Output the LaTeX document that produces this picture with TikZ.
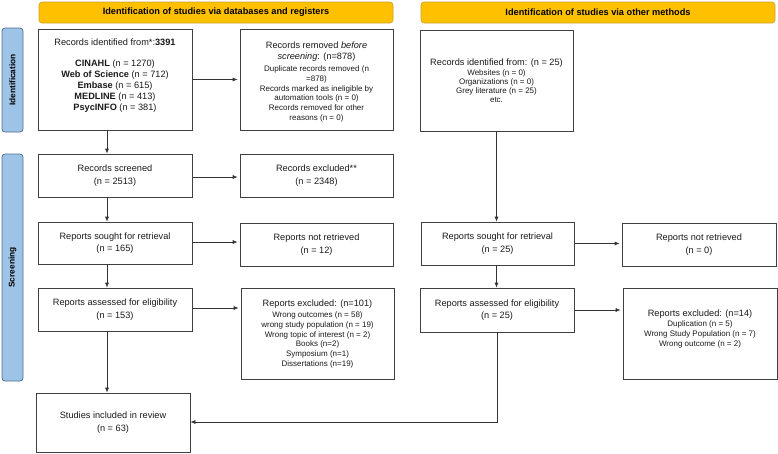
\documentclass[tikz,border=0pt]{standalone}
\usepackage{fontspec}
\setmainfont{Liberation Sans}
\usetikzlibrary{arrows.meta}
\definecolor{hdr}{HTML}{FFC000}
\definecolor{hdrb}{HTML}{C9A227}
\definecolor{side}{HTML}{9DC3E6}
\definecolor{sideb}{HTML}{4F6F91}
\newcommand\smtxt{\fontsize{8}{9.6}\selectfont}
\begin{document}
\begin{tikzpicture}[x=1pt,y=-1pt,
  box/.style={draw=black!75, line width=0.7pt, align=center, inner sep=2pt,
    font=\fontsize{9.2}{12.5}\selectfont, text=black!90},
  txt/.style={align=center, inner sep=0pt, font=\fontsize{9.2}{9.7}\selectfont, text=black!90},
  hdrbox/.style={draw=hdrb, fill=hdr, rounded corners=3pt, line width=0.6pt,
    font=\bfseries\fontsize{9.2}{11}\selectfont, minimum width=354pt, minimum height=21pt},
  sidebar/.style={draw=sideb, fill=side, rounded corners=3pt, line width=0.8pt,
    rotate=90, minimum height=21pt, font=\bfseries\fontsize{8.3}{10}\selectfont},
  arr/.style={-{Latex[length=5pt,width=4pt]}, draw=black!80, line width=0.7pt}]
\useasboundingbox (0,0) rectangle (778,453);

% headers
\node[hdrbox] (h1) at (216,12.5) {Identification of studies via databases and registers};
\node[hdrbox] (h2) at (598,12.5) {Identification of studies via other methods};

% side bars
\node[sidebar, minimum width=104pt] (s1) at (12.5,80) {Identification};
\node[sidebar, minimum width=227pt] (s2) at (12.5,267.5) {Screening};

% left column
\node[box, minimum width=154pt, minimum height=101pt] (b1) at (115,79.5) {};
\node[txt, font=\fontsize{9.2}{11}\selectfont] (b1t) at (115,76)
  {Records identified from*:\textbf{3391}\\[10pt]
   \textbf{CINAHL} (n = 1270)\\
   \textbf{Web of Science} (n = 712)\\
   \textbf{Embase} (n = 615)\\
   \textbf{MEDLINE} (n = 413)\\
   \textbf{PsycINFO} (n = 381)};
\node[box, minimum width=153pt, minimum height=101pt] (rem) at (316.5,79.5) {};
\node[txt] (remt) at (316.5,82)
  {Records removed \emph{before}\\[1.3pt] \emph{screening}: (n=878)\\[2.3pt]
   \smtxt Duplicate records removed (n\\ \smtxt =878)\\
   \smtxt Records marked as ineligible by\\ \smtxt automation tools (n = 0)\\
   \smtxt Records removed for other\\ \smtxt reasons (n = 0)};
\node[box, minimum width=154pt, minimum height=43pt] (scr) at (115,175.5)
  {Records screened\\ (n = 2513)};
\node[box, minimum width=153pt, minimum height=43pt] (exc) at (316.5,175.5)
  {Records excluded**\\ (n = 2348)};
\node[box, minimum width=154pt, minimum height=42pt] (sou) at (115,243)
  {Reports sought for retrieval\\ (n = 165)};
\node[box, minimum width=153pt, minimum height=43pt] (nr) at (316.5,244.5)
  {Reports not retrieved\\ (n = 12)};
\node[box, minimum width=154pt, minimum height=43pt] (ass) at (115,309.5)
  {Reports assessed for eligibility\\ (n = 153)};
\node[box, minimum width=153pt, minimum height=91pt] (rex) at (317.5,333.5) {};
\node[txt] (rext) at (317.5,334)
  {Reports excluded: (n=101)\\[1.3pt]
   \smtxt Wrong outcomes (n = 58)\\
   \smtxt wrong study population (n = 19)\\
   \smtxt Wrong topic of interest (n = 2)\\
   \smtxt Books (n=2)\\
   \smtxt Symposium (n=1)\\
   \smtxt Dissertations (n=19)};
\node[box, minimum width=154pt, minimum height=59pt] (inc) at (113,422.5)
  {Studies included in review\\ (n = 63)};

% right column
\node[box, minimum width=153pt, minimum height=101pt] (oth) at (496.5,80.5) {};
\node[txt] (otht) at (496.5,81)
  {Records identified from: (n = 25)\\[-0.3pt]
   \smtxt Websites (n = 0)\\[-0.5pt]
   \smtxt Organizations (n = 0)\\[-0.5pt]
   \smtxt Grey literature (n = 25)\\[-0.5pt]
   \smtxt etc.};
\node[box, minimum width=153pt, minimum height=43pt] (osou) at (497.5,243.5)
  {Reports sought for retrieval\\ (n = 25)};
\node[box, minimum width=154pt, minimum height=43pt] (onr) at (699,244.5)
  {Reports not retrieved\\ (n = 0)};
\node[box, minimum width=154pt, minimum height=44pt] (oass) at (497,310)
  {Reports assessed for eligibility\\ (n = 25)};
\node[box, minimum width=154pt, minimum height=91pt] (oex) at (700,333.5) {};
\node[txt] (oext) at (700,329)
  {Reports excluded: (n=14)\\[0.5pt]
   \smtxt Duplication (n = 5)\\
   \smtxt Wrong Study Population (n = 7)\\
   \smtxt Wrong outcome (n = 2)};

% connectors left
\draw[arr] ([xshift=-8pt]b1.south) -- ([xshift=-8pt]scr.north);
\draw[arr] ([xshift=-8pt]scr.south) -- ([xshift=-8pt]sou.north);
\draw[arr] ([xshift=-8pt]sou.south) -- ([xshift=-8pt]ass.north);
\draw[arr] ([xshift=-8pt]ass.south) -- ([xshift=-6pt]inc.north);
\draw[arr, shorten <=1pt, shorten >=2pt] (b1.east) -- (b1.east -| rem.west);
\draw[arr, shorten <=1pt, shorten >=2pt] ([yshift=-1.5pt]scr.east) -- ([yshift=-1.5pt]scr.east -| exc.west);
\draw[arr, shorten <=1pt, shorten >=2pt] ([yshift=1pt]sou.east) -- ([yshift=1pt]sou.east -| nr.west);
\draw[arr, shorten <=1pt, shorten >=2pt] ([yshift=1.5pt]ass.east) -- ([yshift=1.5pt]ass.east -| rex.west);

% connectors right
\draw[arr] (oth.south) -- (oth.south |- osou.north);
\draw[arr] ([xshift=-1pt]osou.south) -- ([xshift=-1pt]osou.south |- oass.north);
\draw[arr, shorten <=1pt, shorten >=2pt] (osou.east) -- (osou.east -| onr.west);
\draw[arr, shorten <=1pt, shorten >=2pt] (oass.east) -- (oass.east -| oex.west);
\draw[arr] (oass.south) |- ([yshift=0.5pt]inc.east);
\end{tikzpicture}
\end{document}
